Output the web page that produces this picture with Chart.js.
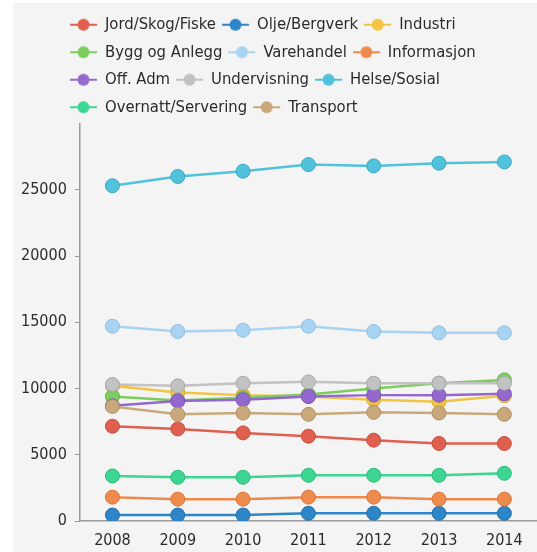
<!DOCTYPE html>
<html>
<head>
<meta charset="utf-8">
<script src="https://cdn.jsdelivr.net/npm/chart.js@4.4.1/dist/chart.umd.min.js"></script>
<style>
  html, body { margin: 0; padding: 0; background: #fff; }
</style>
</head>
<body>
<canvas id="chart" width="537" height="552"></canvas>
<script>
var years = ['2008', '2009', '2010', '2011', '2012', '2013', '2014'];
var names = ['Jord/Skog/Fiske', 'Olje/Bergverk', 'Industri', 'Bygg og Anlegg', 'Varehandel',
  'Informasjon', 'Off. Adm', 'Undervisning', 'Helse/Sosial', 'Overnatt/Servering', 'Transport'];

var jord = [7150, 6950, 6650, 6400, 6100, 5850, 5850];
var olje = [450, 450, 450, 580, 580, 580, 580];
var industri = [10200, 9700, 9500, 9400, 9150, 9000, 9450];
var bygg = [9400, 9100, 9300, 9550, 10000, 10400, 10650];
var varehandel = [14700, 14300, 14400, 14700, 14300, 14200, 14200];
var informasjon = [1800, 1650, 1650, 1800, 1800, 1650, 1650];
var offAdm = [8700, 9050, 9150, 9400, 9500, 9500, 9600];
var undervisning = [10300, 10200, 10400, 10500, 10400, 10400, 10400];
var helse = [25300, 26000, 26400, 26900, 26800, 27000, 27100];
var overnatt = [3400, 3300, 3300, 3450, 3450, 3450, 3600];
var transport = [8650, 8050, 8150, 8050, 8200, 8150, 8050];

var series = [jord, olje, industri, bygg, varehandel, informasjon, offAdm, undervisning, helse, overnatt, transport];

var colors = ['#e0604f', '#2e86c8', '#f2c444', '#7dcc5e', '#a8d4f2', '#ef8a4d',
  '#9468cf', '#c2c2c2', '#50c2dc', '#3dd592', '#c9a97c'];
var edges = ['#c95040', '#2270ac', '#d9ad35', '#68b34b', '#8fc0e3', '#d9773c',
  '#7d55b8', '#a8a8a8', '#3eaac3', '#2fbb7c', '#b09064'];

var family = '"DejaVu Sans Condensed", "DejaVu Sans", sans-serif';
var tickFont = { family: family, size: 16 };
var legendFont = { family: family, size: 16.5 };
var textColor = '#2b2b2b';

// little line + dot used as legend marker
function legendMarker(color) {
  var c = document.createElement('canvas');
  c.width = 32; c.height = 16;
  var ctx = c.getContext('2d');
  ctx.strokeStyle = color;
  ctx.lineWidth = 2;
  ctx.beginPath(); ctx.moveTo(0.125, 8); ctx.lineTo(27.125, 8); ctx.stroke();
  ctx.fillStyle = color;
  ctx.beginPath(); ctx.arc(13.625, 8, 6, 0, Math.PI * 2); ctx.fill();
  return c;
}
var markers = colors.map(legendMarker);

var background = {
  id: 'background',
  beforeDraw: function(chart) {
    var ctx = chart.ctx;
    ctx.save();
    ctx.fillStyle = '#f4f4f4';
    ctx.fillRect(13, 3, chart.width - 13, chart.height - 3);
    ctx.restore();
  }
};

// legend rows start at x=70 like the original, a bit lower
var legendShift = {
  id: 'legendShift',
  afterLayout: function(chart) {
    chart.legend.left = 64;
    chart.legend.top += 2;
  }
};

var datasets = series.map(function(d, i) {
  return {
    label: names[i],
    data: d,
    borderColor: colors[i],
    backgroundColor: colors[i],
    pointBackgroundColor: colors[i],
    pointBorderColor: edges[i],
    pointBorderWidth: 1,
    pointRadius: 7,
    borderWidth: 2.5,
    order: -i
  };
});

new Chart(document.getElementById('chart').getContext('2d'), {
  type: 'line',
  data: { labels: years, datasets: datasets },
  plugins: [background, legendShift],
  options: {
    responsive: false,
    animation: false,
    layout: { autoPadding: false, padding: { top: 3.5, left: 13, right: 0, bottom: 1.8 } },
    plugins: {
      tooltip: { enabled: false },
      legend: {
        position: 'top',
        align: 'start',
        fullSize: false,
        labels: {
          usePointStyle: true,
          pointStyleWidth: 21.75,
          padding: 11,
          font: legendFont,
          color: textColor,
          generateLabels: function(chart) {
            return names.map(function(n, i) {
              return {
                text: n,
                fillStyle: colors[i],
                strokeStyle: colors[i],
                lineWidth: 0,
                pointStyle: markers[i],
                hidden: false,
                datasetIndex: i,
                fontColor: textColor
              };
            });
          }
        }
      }
    },
    scales: {
      x: {
        offset: true,
        grid: { display: false, drawTicks: true, tickLength: 10 },
        border: { color: '#9a9a9a', width: 1.5 },
        ticks: { padding: 0, font: tickFont, color: textColor }
      },
      y: {
        min: 0,
        max: 30000,
        afterBuildTicks: function(scale) {
          scale.ticks = scale.ticks.filter(function(t) { return t.value <= 25000; });
        },
        grid: { drawOnChartArea: false, drawTicks: true, tickLength: 5, color: '#9a9a9a' },
        border: { color: '#9a9a9a', width: 1.5 },
        ticks: {
          stepSize: 5000, padding: 8, font: tickFont, color: textColor,
          callback: function(v) { return String(v); }
        }
      }
    }
  }
});
</script>
</body>
</html>
